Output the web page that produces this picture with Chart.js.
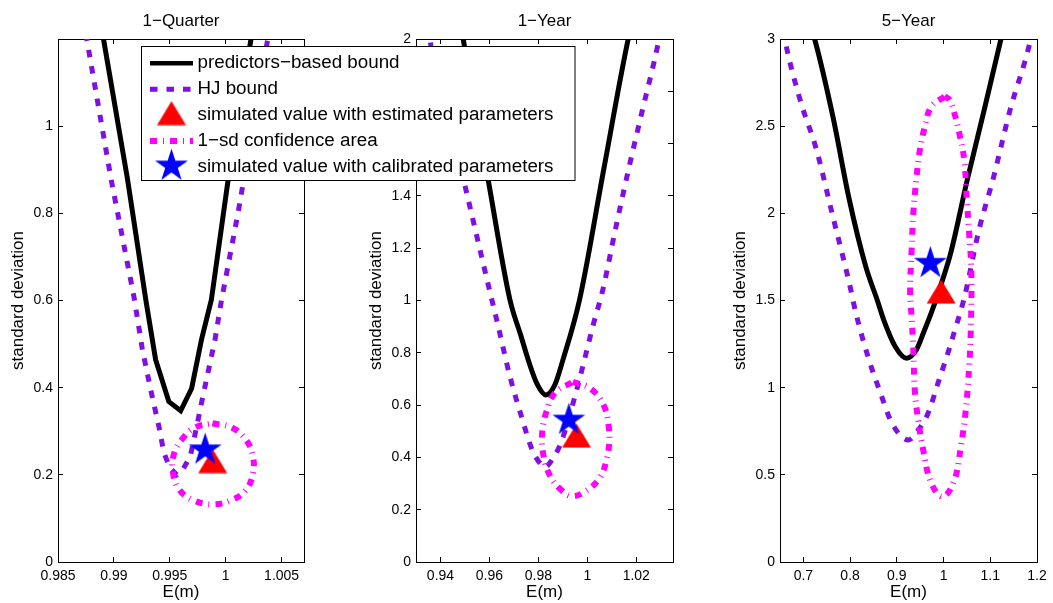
<!DOCTYPE html>
<html>
<head>
<meta charset="utf-8">
<script src="https://cdn.jsdelivr.net/npm/chart.js@4.4.0/dist/chart.umd.min.js"></script>
<style>
  html, body { margin: 0; padding: 0; background: #fff; overflow: hidden; }
  #wrap { position: relative; width: 1053px; height: 603px; }
  #wrap canvas { position: absolute; top: 0; }
  #legend { left: 0; z-index: 2; pointer-events: none; }
</style>
</head>
<body>
<div id="wrap">
  <canvas id="c-quarter" width="320" height="603" style="left:0px"></canvas>
  <canvas id="c-year" width="360" height="603" style="left:330px"></canvas>
  <canvas id="c-five" width="353" height="603" style="left:700px"></canvas>
  <canvas id="legend" width="1053" height="603"></canvas>
</div>
<script>
const legendLabels = [
  'predictors−based bound',
  'HJ bound',
  'simulated value with estimated parameters',
  '1−sd confidence area',
  'simulated value with calibrated parameters'
];
const panelTitles = ['1−Quarter', '1−Year', '5−Year'];

// 1-Quarter
const qXRange = [0.985, 1.007];
const qYRange = [0, 1.2];
const qXTicks = [0.985, 0.99, 0.995, 1, 1.005];
const qYTicks = [0, 0.2, 0.4, 0.6, 0.8, 1];
const qPred = [[0.9888, 1.25], [0.98907, 1.2], [0.99122, 0.878], [0.99285, 0.602], [0.99373, 0.464],
  [0.99491, 0.368], [0.99597, 0.347], [0.99695, 0.398], [0.99783, 0.51], [0.99872, 0.602],
  [1.00022, 0.878], [1.00226, 1.2], [1.0026, 1.25]];
const qHJ = [[0.9873, 1.25], [0.98757, 1.2], [0.98975, 0.878], [0.99181, 0.606], [0.99255, 0.487],
  [0.99329, 0.395], [0.99403, 0.31], [0.99447, 0.251], [0.995, 0.216], [0.99562, 0.2],
  [0.99615, 0.2115], [0.99683, 0.242], [0.9975, 0.3225], [0.9978, 0.361], [0.99904, 0.51],
  [0.99963, 0.602], [1.00111, 0.802], [1.00376, 1.2], [1.0039, 1.25]];
const qConf = [[0.99881, 0.3184], [1.00058, 0.308], [1.00181, 0.2805], [1.00243, 0.2437],
  [1.00243, 0.2023], [1.00181, 0.1655], [1.00058, 0.1425], [0.99881, 0.1322], [0.99704, 0.1425],
  [0.9958, 0.1678], [0.99527, 0.2069], [0.99535, 0.246], [0.99606, 0.2805], [0.99721, 0.308],
  [0.99881, 0.3184]];
const qEst = [[0.99883, 0.2315]];
const qCal = [[0.99816, 0.2575]];

// 1-Year
const yXRange = [0.93, 1.035];
const yYRange = [0, 2];
const yXTicks = [0.94, 0.96, 0.98, 1, 1.02];
const yYTicks = [0, 0.2, 0.4, 0.6, 0.8, 1, 1.2, 1.4, 1.6, 1.8, 2];
const yPred = [[0.9485, 2.05], [0.9493, 2.0], [0.9595, 1.461], [0.9684, 1.002], [0.9727, 0.87],
  [0.9763, 0.76], [0.9795, 0.68], [0.983, 0.639], [0.9867, 0.677], [0.99, 0.772],
  [0.9968, 1.002], [1.0067, 1.501], [1.0167, 2.0], [1.018, 2.05]];
const yHJ = [[0.9355, 2.05], [0.9359, 1.99], [0.9501, 1.435], [0.9603, 1.029], [0.963, 0.925],
  [0.9684, 0.709], [0.9731, 0.556], [0.9775, 0.428], [0.9813, 0.371], [0.9826, 0.363],
  [0.986, 0.397], [0.9894, 0.46], [0.99545, 0.651], [0.9988, 0.772], [1.0022, 0.9],
  [1.0063, 1.04], [1.0117, 1.282], [1.0171, 1.512], [1.0225, 1.728], [1.0292, 1.996], [1.0302, 2.05]];
const yConf = [[0.99408, 0.6895], [1.00154, 0.6616], [1.00694, 0.5939], [1.00876, 0.5163],
  [1.00897, 0.4589], [1.00787, 0.3901], [1.00491, 0.3201], [0.99882, 0.2677], [0.99355, 0.2524],
  [0.98937, 0.2753], [0.98462, 0.3327], [0.98191, 0.4157], [0.98158, 0.4983], [0.98329, 0.5748],
  [0.98665, 0.6451], [0.99408, 0.6895]];
const yEst = [[0.99558, 0.4834]];
const yCal = [[0.99245, 0.543]];

// 5-Year
const fXRange = [0.65, 1.2];
const fYRange = [0, 3];
const fXTicks = [0.7, 0.8, 0.9, 1, 1.1, 1.2];
const fYTicks = [0, 0.5, 1, 1.5, 2, 2.5, 3];
const fPred = [[0.718, 3.05], [0.7241, 3.0], [0.7632, 2.555], [0.7984, 2.077], [0.8336, 1.694],
  [0.858, 1.503], [0.8721, 1.388], [0.8968, 1.235], [0.9212, 1.169], [0.9416, 1.216],
  [0.9585, 1.325], [0.9753, 1.44], [0.9943, 1.589], [1.0154, 1.773], [1.0512, 2.197],
  [1.087, 2.593], [1.1229, 3.0], [1.1313, 3.1]];
const fHJ = [[0.6572, 3.052], [0.6614, 2.985], [0.693, 2.651], [0.7282, 2.364], [0.7632, 1.981],
  [0.7984, 1.599], [0.8125, 1.427], [0.8405, 1.159], [0.8652, 0.968], [0.8896, 0.796],
  [0.9248, 0.7], [0.9458, 0.757], [0.9669, 0.853], [0.988, 1.025], [1.0126, 1.226],
  [1.0232, 1.321], [1.0442, 1.513], [1.0758, 1.905], [1.1074, 2.211], [1.1424, 2.593],
  [1.1845, 2.976], [1.1902, 3.052]];
const fConf = [[1.0021, 2.67], [0.9739, 2.612], [0.96, 2.497], [0.9494, 2.364], [0.9423, 2.211],
  [0.9353, 2.001], [0.9317, 1.79], [0.9284, 1.542], [0.9317, 1.407], [0.9353, 1.216],
  [0.9389, 0.968], [0.9458, 0.815], [0.9564, 0.643], [0.9739, 0.452], [0.9985, 0.375],
  [1.0232, 0.47], [1.0371, 0.662], [1.0476, 0.872], [1.0548, 1.121], [1.0581, 1.312],
  [1.0596, 1.656], [1.0548, 1.886], [1.0497, 2.077], [1.0442, 2.306], [1.0337, 2.46],
  [1.0232, 2.574], [1.0126, 2.651], [1.0021, 2.67]];
const fEst = [[0.9949, 1.551]];
const fCal = [[0.9718, 1.714]];

const PURPLE = '#7f0fe5';
const MAGENTA = '#ff00ff';
const HJ_DASH = [7.5, 9];
const CONF_DASH = [7, 6, 1, 6];

Chart.defaults.font.family = '"Liberation Sans", Arial, Helvetica, sans-serif';
Chart.defaults.color = '#000';

function starMarker(R) {
  const c = document.createElement('canvas');
  const s = Math.ceil(2 * R + 2);
  c.width = c.height = s;
  const g = c.getContext('2d');
  g.fillStyle = '#0000ff';
  g.beginPath();
  for (let i = 0; i < 10; i++) {
    const r = i % 2 ? R * 0.382 : R;
    const a = -Math.PI / 2 + i * Math.PI / 5;
    g.lineTo(s / 2 + r * Math.cos(a), s / 2 + r * Math.sin(a));
  }
  g.closePath();
  g.fill();
  return c;
}

function triangleMarker(w, h) {
  const c = document.createElement('canvas');
  c.width = w + 1;
  c.height = h + 1;
  const g = c.getContext('2d');
  g.fillStyle = '#ff0000';
  g.beginPath();
  g.moveTo(c.width / 2, 0.5);
  g.lineTo(w + 0.5, h + 0.5);
  g.lineTo(0.5, h + 0.5);
  g.closePath();
  g.fill();
  return c;
}

const starImg = starMarker(17.3);
const triImg = triangleMarker(29, 24);

const toXY = (arr) => arr.map(([x, y]) => ({ x, y }));

function fixedTicks(values) {
  return (axis) => { axis.ticks = values.map((v) => ({ value: v })); };
}

function axisBase(range, ticks) {
  return {
    type: 'linear',
    min: range[0],
    max: range[1],
    afterBuildTicks: fixedTicks(ticks),
    grid: { drawOnChartArea: false, drawTicks: true, tickLength: -5, color: '#000', lineWidth: 1 },
    border: { display: true, color: '#000', width: 1 },
  };
}

function makePanel(canvasId, p) {
  const lineBase = { pointRadius: 0, pointHoverRadius: 0, clip: 0, fill: false };
  const boundCurve = p.smooth ? { cubicInterpolationMode: 'monotone' } : { tension: 0 };

  new Chart(document.getElementById(canvasId), {
    type: 'line',
    data: {
      datasets: [
        { ...lineBase, ...boundCurve, label: legendLabels[0], data: toXY(p.pred),
          borderColor: '#000', borderWidth: 5, borderJoinStyle: 'miter', order: 5 },
        { ...lineBase, ...boundCurve, label: legendLabels[1], data: toXY(p.hj),
          borderColor: PURPLE, borderWidth: 5, borderDash: HJ_DASH, borderCapStyle: 'butt', order: 4 },
        { label: legendLabels[2], data: toXY(p.est), showLine: false, pointStyle: triImg,
          pointRadius: 15, pointHoverRadius: 15, clip: 0, order: 3 },
        { ...lineBase, label: legendLabels[3], data: toXY(p.conf), tension: 0.4,
          borderColor: MAGENTA, borderWidth: 6, borderDash: CONF_DASH, borderCapStyle: 'butt', order: 2 },
        { label: legendLabels[4], data: toXY(p.cal), showLine: false, pointStyle: starImg,
          pointRadius: 15, pointHoverRadius: 15, clip: 0, order: 1 },
      ],
    },
    options: {
      responsive: false,
      animation: false,
      events: [],
      layout: { padding: { left: 0, right: p.padRight, top: 0, bottom: 0 } },
      scales: {
        x: {
          ...axisBase(p.xRange, p.xTicks),
          position: 'bottom',
          afterFit: (s) => { s.height = 41; s.paddingLeft = 0; s.paddingRight = 0; },
          ticks: { padding: 10.6, font: { size: 14 }, color: '#000', autoSkip: false, maxRotation: 0,
            callback: (v) => String(v) },
          title: { display: true, text: 'E(m)', font: { size: 17, lineHeight: 1.2 }, color: '#000',
            padding: { top: 0, bottom: 0 } },
        },
        x2: {
          ...axisBase(p.xRange, p.xTicks),
          position: 'top',
          afterFit: (s) => { s.height = 0; s.paddingLeft = 0; s.paddingRight = 0; },
          ticks: { display: false },
        },
        y: {
          ...axisBase(p.yRange, p.yTicks),
          position: 'left',
          afterFit: (s) => { s.width = p.yWidth; s.paddingTop = 0; s.paddingBottom = 0; },
          ticks: { padding: 10, font: { size: 14 }, color: '#000', autoSkip: false,
            callback: (v) => String(v) },
          title: { display: true, text: 'standard deviation', font: { size: 17, lineHeight: 1.2 },
            color: '#000', padding: { top: p.yTitlePad, bottom: 0 } },
        },
        y2: {
          ...axisBase(p.yRange, p.yTicks),
          position: 'right',
          afterFit: (s) => { s.width = 0; s.paddingTop = 0; s.paddingBottom = 0; },
          ticks: { display: false },
        },
      },
      plugins: {
        legend: { display: false },
        tooltip: { enabled: false },
        title: {
          display: true,
          text: p.title,
          fullSize: false,
          color: '#000',
          font: { size: 17, weight: 'normal', lineHeight: 1.2 },
          padding: { top: 11.3, bottom: 7.3 },
        },
      },
    },
  });
}

makePanel('c-quarter', {
  title: panelTitles[0], xRange: qXRange, yRange: qYRange, xTicks: qXTicks, yTicks: qYTicks,
  pred: qPred, hj: qHJ, conf: qConf, est: qEst, cal: qCal,
  smooth: false, yWidth: 58, yTitlePad: 7.8, padRight: 14,
});
makePanel('c-year', {
  title: panelTitles[1], xRange: yXRange, yRange: yYRange, xTicks: yXTicks, yTicks: yYTicks,
  pred: yPred, hj: yHJ, conf: yConf, est: yEst, cal: yCal,
  smooth: true, yWidth: 86, yTitlePad: 35.8, padRight: 17,
});
makePanel('c-five', {
  title: panelTitles[2], xRange: fXRange, yRange: fYRange, xTicks: fXTicks, yTicks: fYTicks,
  pred: fPred, hj: fHJ, conf: fConf, est: fEst, cal: fCal,
  smooth: true, yWidth: 80, yTitlePad: 29.8, padRight: 12,
});

// shared legend, drawn over the first two panels
(function drawLegend() {
  const g = document.getElementById('legend').getContext('2d');
  g.fillStyle = '#fff';
  g.fillRect(141.5, 46.5, 433.5, 134);
  g.strokeStyle = '#000';
  g.lineWidth = 1;
  g.strokeRect(141.5, 46.5, 433.5, 134);

  const rows = [63.3, 89.2, 115.1, 141, 166.9];
  const x0 = 150, x1 = 193, xm = 171.5;

  g.lineCap = 'butt';
  g.strokeStyle = '#000';
  g.lineWidth = 4.5;
  g.beginPath(); g.moveTo(x0, rows[0]); g.lineTo(x1, rows[0]); g.stroke();

  g.strokeStyle = PURPLE;
  g.lineWidth = 5;
  g.setLineDash(HJ_DASH);
  g.beginPath(); g.moveTo(x0, rows[1]); g.lineTo(x1, rows[1]); g.stroke();

  g.drawImage(triImg, xm - triImg.width / 2, rows[2] - triImg.height / 2 - 2);

  g.strokeStyle = MAGENTA;
  g.lineWidth = 6;
  g.setLineDash(CONF_DASH);
  g.beginPath(); g.moveTo(x0, rows[3]); g.lineTo(x1, rows[3]); g.stroke();
  g.setLineDash([]);

  g.drawImage(starImg, xm - starImg.width / 2, rows[4] - starImg.height / 2 - 1);

  g.fillStyle = '#000';
  g.font = '18.8px "Liberation Sans", Arial, sans-serif';
  g.textBaseline = 'middle';
  legendLabels.forEach((t, i) => g.fillText(t, 197.5, rows[i]));
})();
</script>
</body>
</html>
